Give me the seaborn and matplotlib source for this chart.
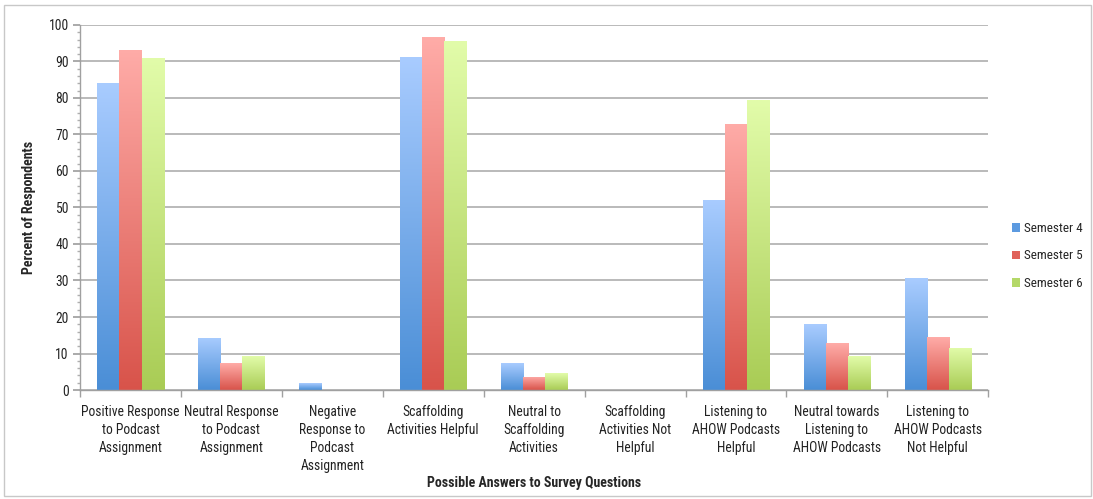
import numpy as np
import pandas as pd
import matplotlib
matplotlib.use("Agg")
import matplotlib.pyplot as plt
from matplotlib import font_manager
from matplotlib.colors import LinearSegmentedColormap
from matplotlib.patches import Patch, Rectangle
from matplotlib.ticker import MultipleLocator, FixedLocator
import seaborn as sns

categories = [
    "Positive Response\nto Podcast\nAssignment",
    "Neutral Response\nto Podcast\nAssignment",
    "Negative\nResponse to\nPodcast\nAssignment",
    "Scaffolding\nActivities Helpful",
    "Neutral to\nScaffolding\nActivities",
    "Scaffolding\nActivities Not\nHelpful",
    "Listening to\nAHOW Podcasts\nHelpful",
    "Neutral towards\nListening to\nAHOW Podcasts",
    "Listening to\nAHOW Podcasts\nNot Helpful",
]
series_names = ["Semester 4", "Semester 5", "Semester 6"]
semester4 = [84.2, 14.3, 1.8, 91.3, 7.3, 0.0, 52.1, 18.0, 30.6]
semester5 = [93.2, 7.3, 0.0, 96.6, 3.6, 0.0, 73.0, 12.8, 14.4]
semester6 = [91.0, 9.3, 0.0, 95.6, 4.6, 0.0, 79.4, 9.3, 11.6]

y_label = "Percent of Respondents"
x_label = "Possible Answers to Survey Questions"

sns.set_theme(style="white")
avail = {f.name for f in font_manager.fontManager.ttflist}
fam = "Liberation Sans"
narrow = False
for cand in ["Liberation Sans Narrow", "DejaVu Sans Condensed", "Roboto Condensed",
             "Open Sans Condensed", "Noto Sans Condensed"]:
    if cand in avail:
        fam = cand
        narrow = True
        break
plt.rcParams["font.family"] = [fam, "DejaVu Sans"]
tick_fs = 9.8 if narrow else 8.3

df = pd.DataFrame({
    "category": np.repeat(categories, 3),
    "series": series_names * len(categories),
    "value": [v for trip in zip(semester4, semester5, semester6) for v in trip],
})

grad = {
    "Semester 4": ("#a9ccff", "#4a8ed6"),
    "Semester 5": ("#ffaca8", "#d8534a"),
    "Semester 6": ("#e2fcaa", "#a9cc55"),
}
mid = {"Semester 4": "#5c9ae0", "Semester 5": "#e0625a", "Semester 6": "#b4d868"}

fig = plt.figure(figsize=(10.93, 4.99), dpi=100)
ax = fig.add_axes([0.0732, 0.2184, 0.831, 0.7316])

sns.barplot(data=df, x="category", y="value", hue="series", order=categories,
            hue_order=series_names, palette=mid, width=0.66, gap=0, ax=ax,
            legend=False, saturation=1, errorbar=None)

# gradient fills
bars = [p for p in ax.patches if isinstance(p, Rectangle)]
for i, p in enumerate(bars):
    s = series_names[i // len(categories)]
    x0, y0 = p.get_x(), p.get_y()
    w, h = p.get_width(), p.get_height()
    p.set_facecolor("none")
    p.set_edgecolor("none")
    if h <= 0:
        continue
    cmap = LinearSegmentedColormap.from_list("g", [grad[s][1], grad[s][0]])
    img = np.linspace(0, 1, 256).reshape(-1, 1)
    im = ax.imshow(img, cmap=cmap, origin="lower", aspect="auto",
                   extent=(x0, x0 + w, y0, y0 + h), zorder=2)
    im.set_clip_path(p)
ax.set_xlim(-0.5, len(categories) - 0.5)
ax.set_ylim(0, 100)

# grid and spines
ax.yaxis.set_major_locator(MultipleLocator(10))
ax.yaxis.set_minor_locator(MultipleLocator(2))
ax.grid(axis="y", color="#b4b4b4", linewidth=1.3)
ax.set_axisbelow(True)
for s in ["top", "right"]:
    ax.spines[s].set_visible(False)
for s in ["left", "bottom"]:
    ax.spines[s].set_color("#a0a0a0")
    ax.spines[s].set_linewidth(1.0)

ax.tick_params(axis="y", which="major", left=True, length=5, color="#a0a0a0",
               labelsize=9.8, labelcolor="#222222", pad=3)
ax.tick_params(axis="y", which="minor", left=True, length=2.5, color="#b0b0b0")
ax.xaxis.set_minor_locator(FixedLocator(np.arange(-0.5, len(categories), 1.0)))
ax.tick_params(axis="x", which="major", bottom=False, labelsize=tick_fs,
               labelcolor="#222222", pad=5)
ax.tick_params(axis="x", which="minor", bottom=True, length=5, color="#a0a0a0")
for t in ax.get_xticklabels():
    t.set_verticalalignment("top")
    t.set_linespacing(1.35)

ax.set_ylabel(y_label, fontsize=10, fontweight="bold")
ax.yaxis.set_label_coords(-0.048, 0.5)
ax.set_xlabel(x_label, fontsize=10, fontweight="bold")
ax.xaxis.set_label_coords(0.5, -0.235)

handles = [Patch(facecolor=mid[s], edgecolor="none") for s in series_names]
leg = fig.legend(handles, series_names, loc="center left",
                 bbox_to_anchor=(0.926, 0.487), frameon=False, fontsize=9.5,
                 handlelength=0.6, handleheight=0.6, handletextpad=0.3,
                 labelspacing=1.1, borderpad=0, borderaxespad=0)

# figure border
fig.patches.append(Rectangle((0.004, 0.006), 0.994, 0.984, transform=fig.transFigure,
                             fill=False, edgecolor="#c8c8c8", linewidth=1.0))

fig.savefig("out.png", dpi=100)
